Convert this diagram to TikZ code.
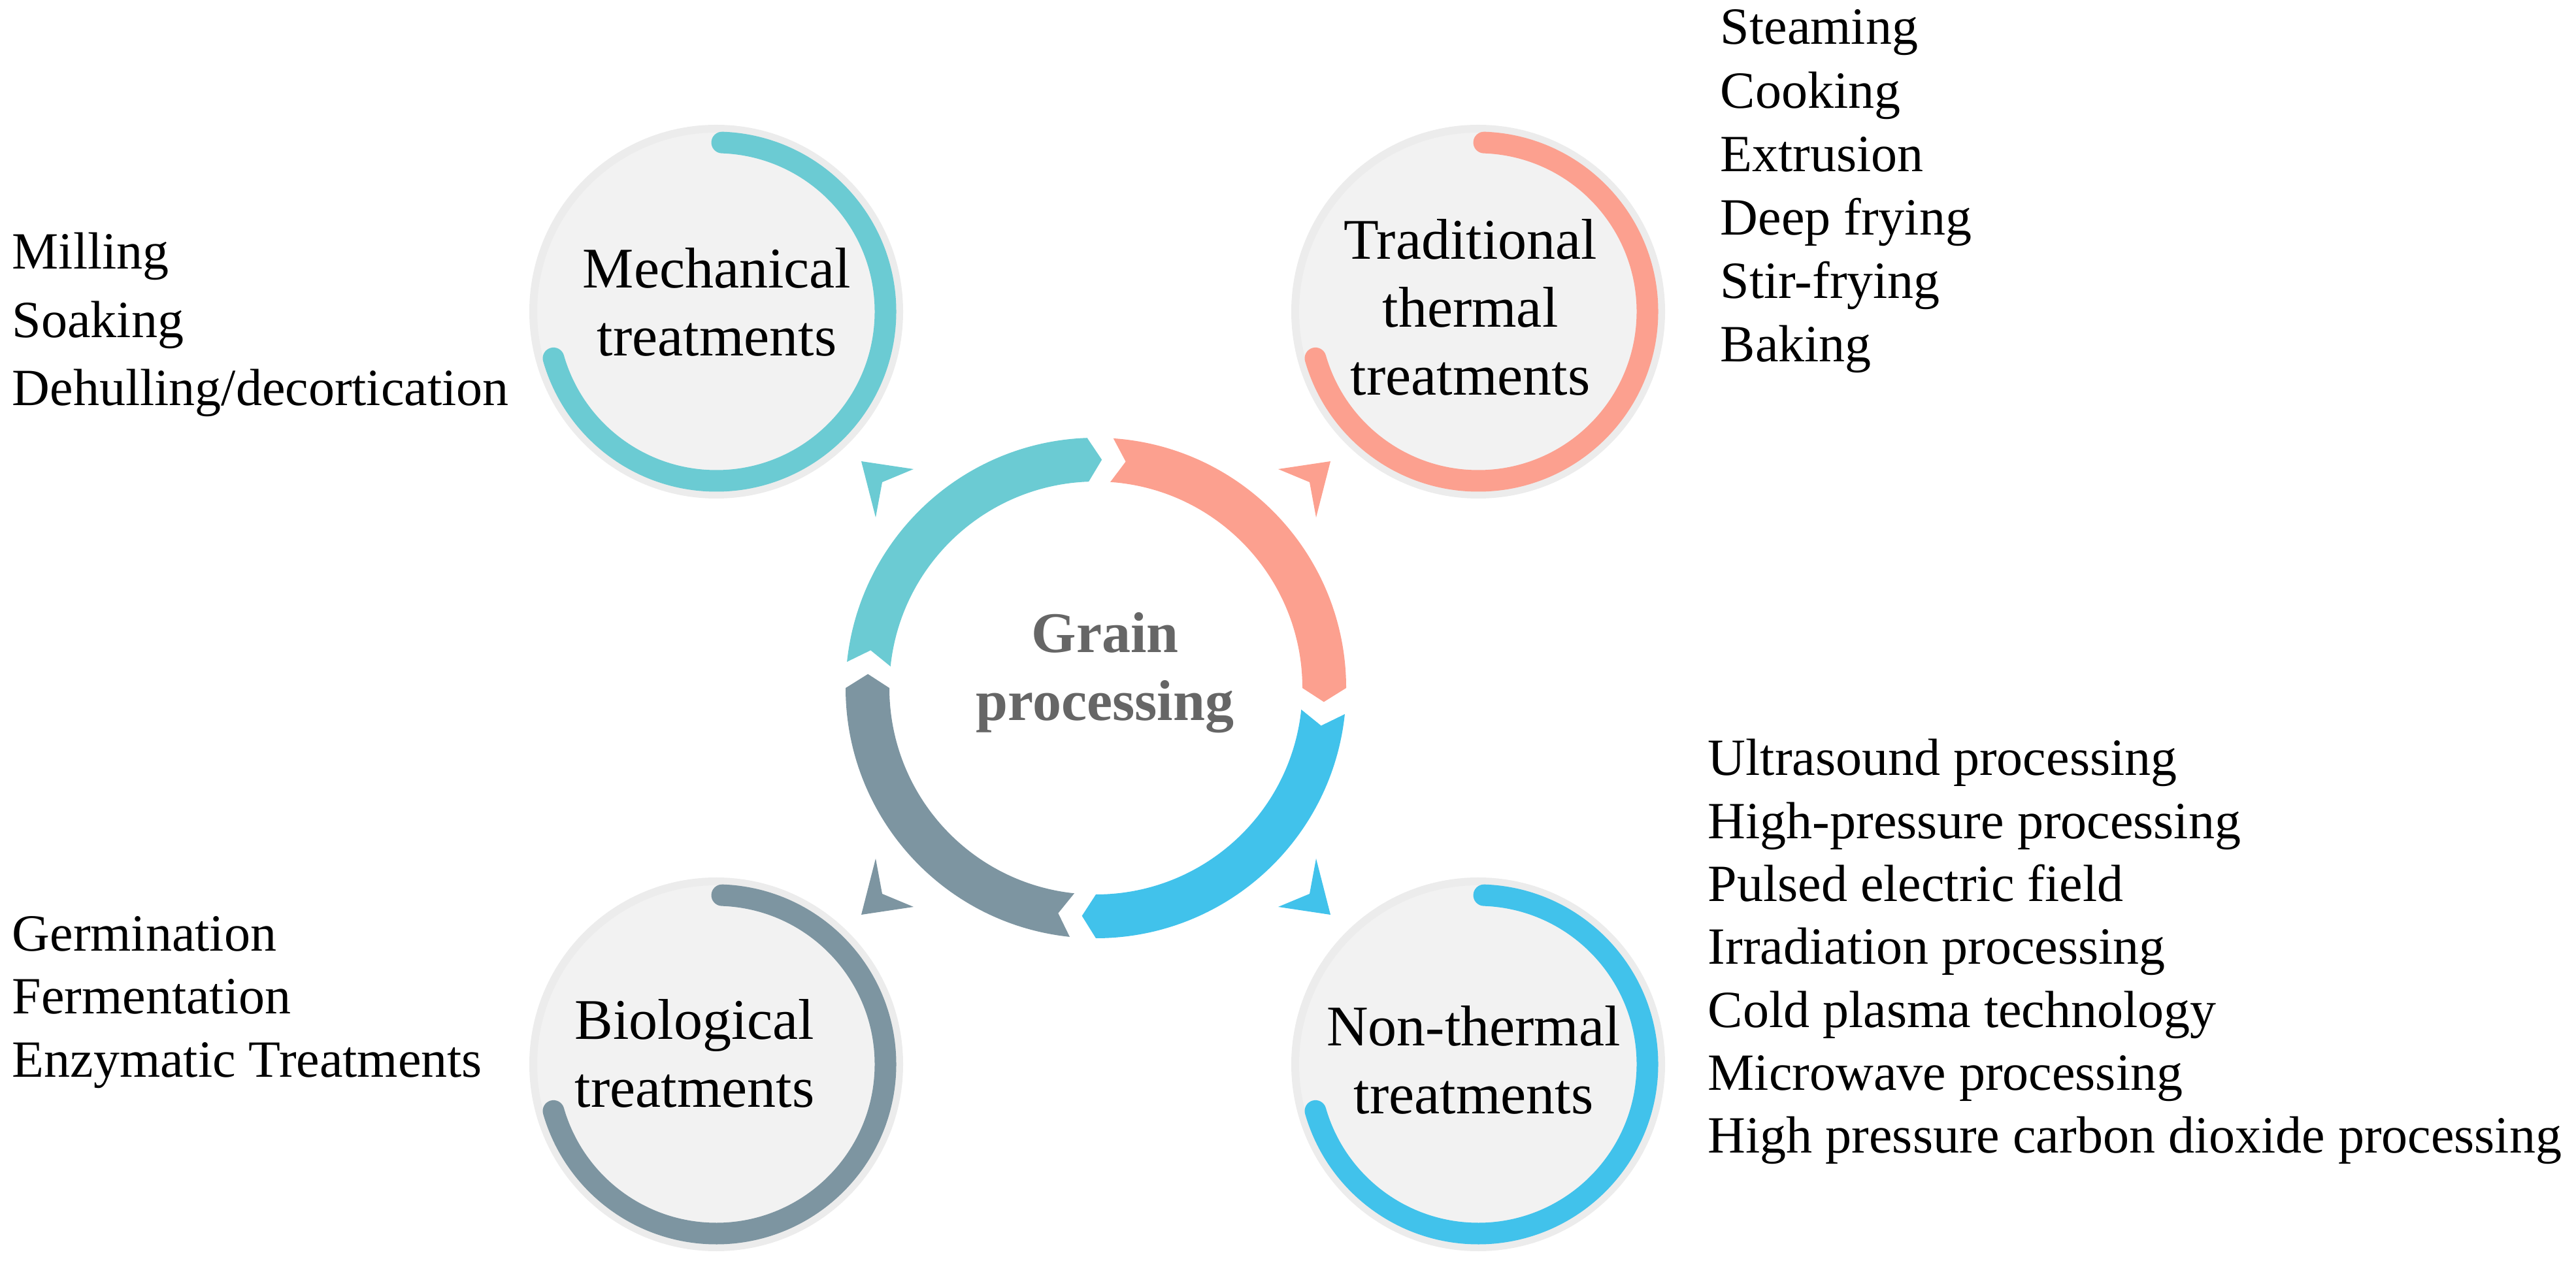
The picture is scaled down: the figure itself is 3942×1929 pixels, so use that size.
\documentclass[tikz,border=0pt]{standalone}
\usepackage{fontspec}
\setmainfont{Liberation Serif}
\definecolor{cmech}{HTML}{6BCBD3}
\definecolor{ctrad}{HTML}{FCA08F}
\definecolor{cnon}{HTML}{41C2EB}
\definecolor{cbio}{HTML}{7D95A1}
\definecolor{discfill}{HTML}{F2F2F2}
\definecolor{discedge}{HTML}{ECECEC}
\definecolor{graintext}{HTML}{666666}
\newcommand\ringseg[3]{%
  \fill[#1] (#2-3:383) arc[start angle=#2-3, end angle=#3+3, radius=383]
    -- (#3-0.5:349.5) -- (#3+3:316)
    arc[start angle=#3+3, end angle=#2-3, radius=316]
    -- (#2-6.5:349.5) -- cycle;}
\newcommand\smallhead[3]{% color, sx, sy
  \fill[#1] ({#2*359},{#3*347}) -- ({#2*279},{#3*335}) -- ({#2*327},{#3*315}) -- ({#2*337},{#3*261}) -- cycle;}
\tikzset{
  disc/.style={circle, minimum size=140pt, fill=discfill, draw=discedge, line width=3pt, inner sep=0pt},
  label/.style={font=\fontsize{22}{26}\selectfont, align=center, text=black},
  item/.style={font=\fontsize{20}{24}\selectfont, anchor=base west, inner sep=0pt},
}
\begin{document}
\begin{tikzpicture}[x=0.25pt,y=0.25pt]
\useasboundingbox (0,0) rectangle (3942,1929);
% discs
\node[disc] (mech) at (1096,1452) {};
\node[disc] (trad) at (2262,1452) {};
\node[disc] (bio) at (1096,300) {};
\node[disc] (non) at (2262,300) {};
\foreach \c/\col in {mech/cmech,trad/ctrad,bio/cbio,non/cnon}{
  \draw[\col, line width=8.25pt, line cap=round] (\c.center) ++(88:259) arc[start angle=88, end angle=-164, radius=259];
}
\node[label] (mechl) at (1097,1467) {Mechanical\\treatments};
\node[label] (tradl) at (2250,1459) {Traditional\\thermal\\treatments};
\node[label] (bioll) at (1063,317) {Biological\\treatments};
\node[label] (nonl) at (2255,307) {Non-thermal\\treatments};
% central ring
\begin{scope}[shift={(1677,876)}]
\ringseg{cmech}{177}{89}
\ringseg{ctrad}{89}{-3}
\ringseg{cnon}{-3}{-93}
\ringseg{cbio}{-93}{-183}
\smallhead{cmech}{-1}{1}
\smallhead{ctrad}{1}{1}
\smallhead{cbio}{-1}{-1}
\smallhead{cnon}{1}{-1}
\end{scope}
\node[font=\fontsize{22}{26}\selectfont\bfseries, text=graintext, align=center] (grain) at (1691,899) {Grain\\processing};
% lists
\foreach \t [count=\i] in {Milling,Soaking,Dehulling/decortication}
  \node[item] (l1-\i) at (18,{1929-412-(\i-1)*104.5}) {\t};
\foreach \t [count=\i] in {Germination,Fermentation,Enzymatic Treatments}
  \node[item] (l2-\i) at (18,{1929-1456-(\i-1)*96}) {\t};
\foreach \t [count=\i] in {Steaming,Cooking,Extrusion,Deep frying,Stir-frying,Baking}
  \node[item] (l3-\i) at (2632,{1929-68-(\i-1)*97.2}) {\t};
\foreach \t [count=\i] in {Ultrasound processing,High-pressure processing,Pulsed electric field,Irradiation processing,Cold plasma technology,Microwave processing,High pressure carbon dioxide processing}
  \node[item] (l4-\i) at (2613,{1929-1187-(\i-1)*96.3}) {\t};
\end{tikzpicture}
\end{document}
